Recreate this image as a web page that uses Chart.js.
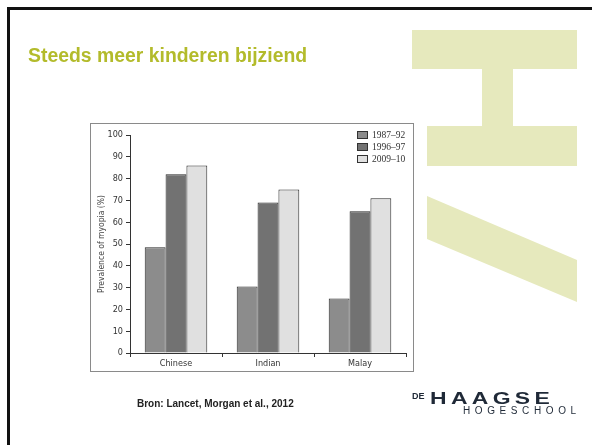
<!DOCTYPE html>
<html>
<head>
<meta charset="utf-8">
<script src="https://cdn.jsdelivr.net/npm/chart.js@4/dist/chart.umd.min.js"></script>
<style>
html,body{margin:0;padding:0;background:#fff;}
#c{display:block;}
</style>
</head>
<body>
<canvas id="c" width="592" height="445"></canvas>
<script>
const categories = ['Chinese', 'Indian', 'Malay'];
const seriesNames = ['1987–92', '1996–97', '2009–10'];
const values1987 = [48.5, 30.5, 25];
const values1996 = [82, 69, 65];
const values2009 = [86, 75, 71];
const yTickStep = 10;

const seriesColors = ['#8c8c8c', '#727272', '#e0e0e0'];

function spaced(ctx, text, x, y, gap) {
  for (const ch of text) {
    ctx.fillText(ch, x, y);
    x += ctx.measureText(ch).width + gap;
  }
}

const slidePlugin = {
  id: 'slide',
  beforeDraw(chart) {
    const ctx = chart.ctx;
    ctx.save();
    ctx.fillStyle = '#ffffff';
    ctx.fillRect(0, 0, chart.width, chart.height);
    // decorative H shape
    ctx.fillStyle = '#e6e9bd';
    ctx.fillRect(412, 30, 165, 39);
    ctx.fillRect(482, 69, 31, 58);
    ctx.fillRect(427, 126, 150, 40);
    ctx.beginPath();
    ctx.moveTo(427, 196);
    ctx.lineTo(577, 260);
    ctx.lineTo(577, 302);
    ctx.lineTo(427, 239);
    ctx.closePath();
    ctx.fill();
    // slide frame
    ctx.fillStyle = '#111';
    ctx.fillRect(7, 7, 585, 3);
    ctx.fillRect(7, 7, 3, 438);
    // chart box frame
    ctx.strokeStyle = '#8a8a8a';
    ctx.lineWidth = 1;
    ctx.strokeRect(90.5, 123.5, 323, 248);
    ctx.restore();
  },
  afterDraw(chart) {
    const ctx = chart.ctx;
    ctx.save();
    // title
    ctx.fillStyle = '#b3bb2b';
    ctx.font = 'bold 19.4px "Liberation Sans", Arial, sans-serif';
    ctx.textBaseline = 'alphabetic';
    ctx.textAlign = 'left';
    ctx.fillText('Steeds meer kinderen bijziend', 28, 62);
    // source
    ctx.fillStyle = '#222';
    ctx.font = 'bold 10px "Liberation Sans", Arial, sans-serif';
    ctx.fillText('Bron: Lancet, Morgan et al., 2012', 137, 407);
    // logo
    ctx.fillStyle = '#1f2937';
    ctx.font = 'bold 9px "Liberation Sans", Arial, sans-serif';
    ctx.fillText('DE', 412, 399);
    ctx.save();
    ctx.translate(430, 404);
    ctx.scale(1.35, 1);
    ctx.font = 'bold 17px "Liberation Sans", Arial, sans-serif';
    spaced(ctx, 'HAAGSE', 0, 0, 3.2);
    ctx.restore();
    ctx.font = '10px "Liberation Sans", Arial, sans-serif';
    spaced(ctx, 'HOGESCHOOL', 463, 414, 4.6);
    // legend
    const ds = chart.data.datasets;
    ctx.font = '9.5px "Liberation Serif", "DejaVu Serif", serif';
    ctx.textBaseline = 'middle';
    for (let i = 0; i < ds.length; i++) {
      const y = 135 + i * 12;
      ctx.fillStyle = ds[i].backgroundColor;
      ctx.fillRect(357.5, y - 3.5, 10, 7);
      ctx.strokeStyle = '#333';
      ctx.lineWidth = 1;
      ctx.strokeRect(357.5, y - 3.5, 10, 7);
      ctx.fillStyle = '#333';
      ctx.fillText(ds[i].label, 372, y);
    }
    ctx.restore();
  }
};

const tickFont = { family: '"DejaVu Sans Condensed", "Liberation Sans Narrow", sans-serif', size: 9 };

new Chart(document.getElementById('c'), {
  type: 'bar',
  data: {
    labels: categories,
    datasets: [
      { label: seriesNames[0], data: values1987, backgroundColor: seriesColors[0] },
      { label: seriesNames[1], data: values1996, backgroundColor: seriesColors[1] },
      { label: seriesNames[2], data: values2009, backgroundColor: seriesColors[2] }
    ].map(d => Object.assign(d, { borderColor: '#2a2a2a', borderWidth: 1, borderSkipped: 'bottom', categoryPercentage: 0.68, barPercentage: 1 }))
  },
  options: {
    responsive: false,
    animation: false,
    layout: { padding: { left: 90, right: 186, top: 135, bottom: 72 } },
    plugins: { legend: { display: false }, tooltip: { enabled: false } },
    scales: {
      x: {
        afterFit(s) { s.height = 20; },
        grid: { display: true, drawOnChartArea: false, drawTicks: true, tickLength: 4, color: '#333', offset: true },
        border: { display: true, color: '#333', width: 1 },
        ticks: { color: '#333', font: tickFont, padding: 1 }
      },
      y: {
        min: 0, max: 100,
        afterFit(s) { s.width = 40; },
        grid: { display: true, drawOnChartArea: false, drawTicks: true, tickLength: 4, color: '#333' },
        border: { display: true, color: '#333', width: 1 },
        ticks: { stepSize: yTickStep, color: '#333', font: tickFont, padding: 3 },
        title: { display: true, text: 'Prevalence of myopia (%)', color: '#444', font: { family: '"DejaVu Sans Condensed", "Liberation Sans Narrow", sans-serif', size: 8.5 }, padding: { top: 7, bottom: 0 } }
      }
    }
  },
  plugins: [slidePlugin]
});
</script>
</body>
</html>
